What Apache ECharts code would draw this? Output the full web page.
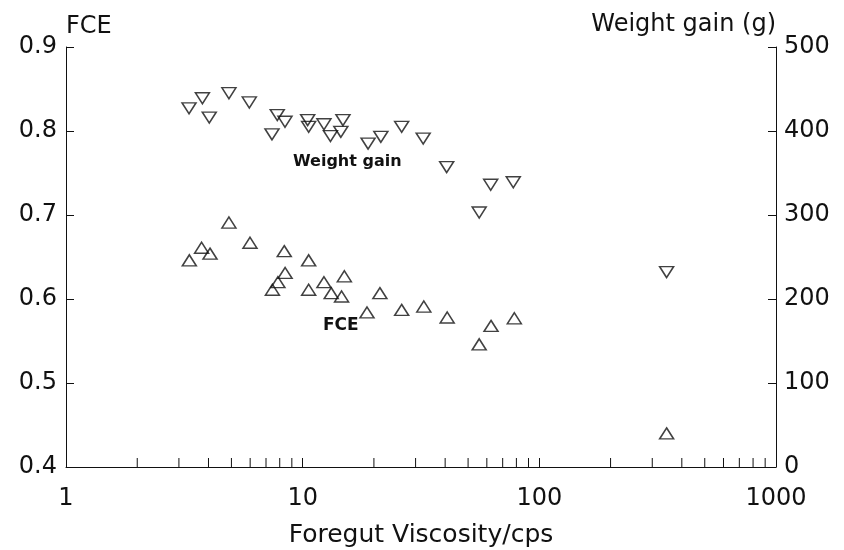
<!DOCTYPE html>
<html>
<head>
<meta charset="utf-8">
<script src="https://cdn.jsdelivr.net/npm/echarts@6/dist/echarts.min.js"></script>
<style>
  html, body { margin: 0; padding: 0; background: #fff; }
  #chart { width: 844px; height: 550px; }
</style>
</head>
<body>
<div id="chart"></div>
<script>
// viscosity (cps) / weight gain (g), down triangles
const wgViscosity = [3.31, 3.77, 4.03, 4.88, 5.95, 7.42, 7.81, 8.42, 10.5, 10.6, 12.3, 13.1,
  14.5, 14.8, 18.9, 21.4, 26.2, 32.3, 40.6, 55.7, 62.3, 77.6, 345]
const weightGain = [427, 439, 416, 445, 434, 396, 419, 411, 413, 405, 408, 394,
  399, 413, 385, 393, 405, 391, 357, 303, 336, 339, 232]

// viscosity (cps) / FCE, up triangles
const fceViscosity = [3.32, 3.74, 4.06, 4.88, 5.99, 7.45, 7.86, 8.36, 8.43, 10.6, 10.6, 12.3,
  13.2, 14.6, 15.0, 18.7, 21.2, 26.2, 32.5, 40.8, 55.7, 62.5, 78.4, 345]
const fce = [0.646, 0.661, 0.654, 0.691, 0.667, 0.611, 0.620, 0.657, 0.631, 0.646, 0.611, 0.620,
  0.607, 0.603, 0.627, 0.584, 0.607, 0.587, 0.591, 0.578, 0.546, 0.568, 0.577, 0.440]

const xTickLabels = ['1', '10', '100', '1000']
const minorTickValues = [2, 3, 4, 5, 6, 7, 8, 9, 20, 30, 40, 50, 60, 70, 80, 90,
  200, 300, 400, 500, 600, 700, 800, 900]

const ink = '#111'
const font = 'DejaVu Sans'

const chart = echarts.init(document.getElementById('chart'))

const markerStyle = {
  color: 'rgba(0,0,0,0)',
  borderColor: ink,
  borderWidth: 1.5
}

const options = {
  animation: false,
  grid: {
    left: 66,
    right: 68,
    top: 47,
    bottom: 83,
    containLabel: false,
    outerBoundsMode: 'none'
  },
  xAxis: {
    type: 'log',
    logBase: 10,
    min: 1,
    max: 1000,
    name: 'Foregut Viscosity/cps',
    nameLocation: 'middle',
    nameGap: 56,
    nameTextStyle: { fontFamily: font, fontSize: 25, color: ink },
    axisLine: { lineStyle: { color: ink, width: 1 } },
    axisTick: { inside: true, length: 9, lineStyle: { color: ink } },
    axisLabel: {
      margin: 20,
      fontFamily: font,
      fontSize: 24,
      color: ink,
      formatter: v => xTickLabels[Math.round(Math.log10(v))]
    },
    splitLine: { show: false }
  },
  yAxis: [
    {
      type: 'value',
      position: 'left',
      min: 0.4,
      max: 0.9,
      interval: 0.1,
      name: 'FCE',
      nameGap: 8,
      nameTextStyle: { fontFamily: font, fontSize: 24, color: ink, align: 'left' },
      axisLine: { show: true, lineStyle: { color: ink, width: 1 } },
      axisTick: { show: true, inside: true, length: 8, lineStyle: { color: ink } },
      axisLabel: {
        margin: 9,
        fontFamily: font,
        fontSize: 24,
        color: ink,
        formatter: v => v.toFixed(1)
      },
      splitLine: { show: false }
    },
    {
      type: 'value',
      position: 'right',
      min: 0,
      max: 500,
      interval: 100,
      name: 'Weight gain (g)',
      nameGap: 10,
      nameTextStyle: { fontFamily: font, fontSize: 24, color: ink, align: 'right' },
      axisLine: { show: true, lineStyle: { color: ink, width: 1 } },
      axisTick: { show: true, inside: true, length: 8, lineStyle: { color: ink } },
      axisLabel: {
        margin: 8,
        fontFamily: font,
        fontSize: 24,
        color: ink
      },
      splitLine: { show: false }
    }
  ],
  graphic: [
    {
      type: 'text',
      left: 293,
      top: 154,
      style: { text: 'Weight gain', fontFamily: font, fontWeight: 'bold', fontSize: 16, fill: ink }
    },
    {
      type: 'text',
      left: 323,
      top: 317,
      style: { text: 'FCE', fontFamily: font, fontWeight: 'bold', fontSize: 17, fill: ink }
    }
  ],
  series: [
    {
      name: 'Weight gain',
      type: 'scatter',
      yAxisIndex: 1,
      symbol: 'triangle',
      symbolRotate: 180,
      symbolSize: [14, 11],
      itemStyle: markerStyle,
      data: wgViscosity.map((x, i) => [x, weightGain[i]])
    },
    {
      name: 'FCE',
      type: 'scatter',
      yAxisIndex: 0,
      symbol: 'triangle',
      symbolSize: [14, 11],
      itemStyle: markerStyle,
      data: fceViscosity.map((x, i) => [x, fce[i]])
    },
    {
      // minor log ticks along the bottom axis
      name: 'minor ticks',
      type: 'custom',
      yAxisIndex: 0,
      silent: true,
      data: minorTickValues.map(v => [v, 0.4]),
      renderItem: (params, api) => {
        const p = api.coord([api.value(0), api.value(1)])
        return {
          type: 'line',
          shape: { x1: p[0], y1: p[1], x2: p[0], y2: p[1] - 9 },
          style: { stroke: ink, lineWidth: 1 }
        }
      }
    }
  ]
}

chart.setOption(options)
</script>
</body>
</html>
